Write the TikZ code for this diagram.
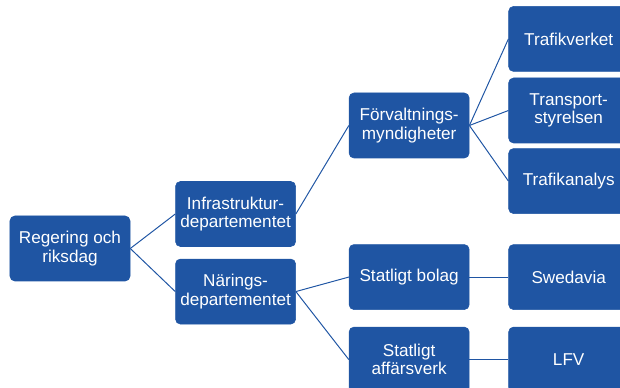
\documentclass[tikz,border=0pt]{standalone}
\usepackage{fontspec}
\setmainfont{Liberation Sans}
\usepackage{xcolor}
\usepackage{tikz}
\usetikzlibrary{positioning}

\definecolor{orgblue}{RGB}{31,85,163}

\begin{document}
\begin{tikzpicture}[
  orgbox/.style={
    draw=orgblue,
    fill=orgblue,
    rounded corners=0.12cm,
    align=center,
    text=white,
    minimum width=3cm,
    minimum height=1.625cm,
    inner sep=2pt,
    font=\fontsize{12.2}{13}\selectfont
  },
  link/.style={draw=orgblue, line width=0.7pt}
]
\useasboundingbox (-1.75,-3.4875) rectangle (13.75,6.2125);

\node[orgbox] (reg) {Regering och\\riksdag};
\node[orgbox, right=1.125cm of reg, yshift=0.8625cm] (infra) {Infrastruktur-\\departementet};
\node[orgbox, below=0.3cm of infra] (nar) {Närings-\\departementet};
\node[orgbox, right=1.325cm of infra, yshift=2.2125cm] (forv) {Förvaltnings-\\myndigheter};
\node[orgbox, right=1.325cm of nar, yshift=0.3625cm] (bolag) {Statligt bolag};
\node[orgbox, below=0.425cm of bolag] (affar) {Statligt\\affärsverk};
\node[orgbox, right=0.975cm of forv, yshift=0.375cm] (tstyr) {Transport-\\styrelsen};
\node[orgbox, above=0.15cm of tstyr] (tverk) {Trafikverket};
\node[orgbox, below=0.125cm of tstyr] (tanal) {Trafikanalys};
\node[orgbox, right=0.975cm of bolag] (swed) {Swedavia};
\node[orgbox, right=0.975cm of affar] (lfv) {LFV};

\draw[link] (reg.east) -- (infra.west);
\draw[link] (reg.east) -- (nar.west);
\draw[link] (infra.east) -- (forv.west);
\draw[link] (nar.east) -- (bolag.west);
\draw[link] (nar.east) -- (affar.west);
\draw[link] (forv.east) -- (tverk.west);
\draw[link] (forv.east) -- (tstyr.west);
\draw[link] (forv.east) -- (tanal.west);
\draw[link] (bolag.east) -- (swed.west);
\draw[link] (affar.east) -- (lfv.west);
\end{tikzpicture}
\end{document}
